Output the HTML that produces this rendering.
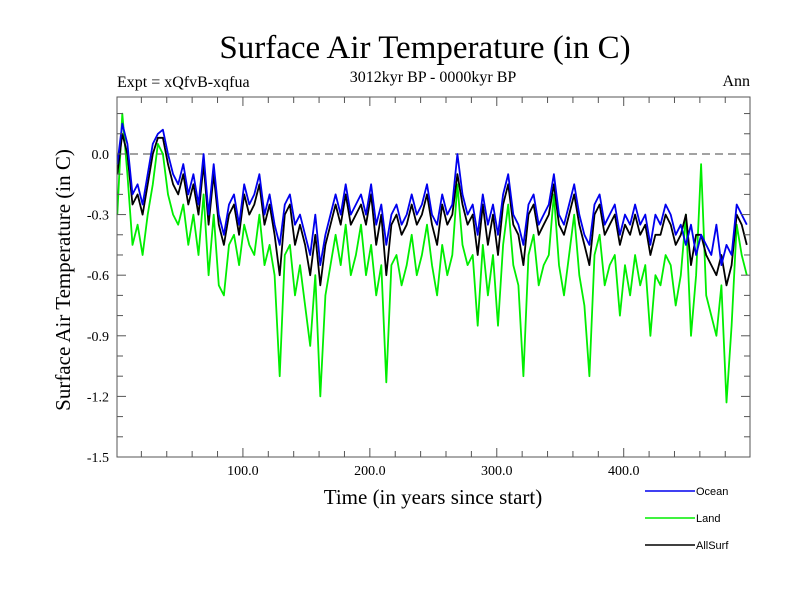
<!DOCTYPE html>
<html><head><meta charset="utf-8"><style>
body{margin:0;background:#fff;}
svg text{font-family:"Liberation Serif",serif;}
svg text.sans{font-family:"Liberation Sans",sans-serif;}
</style></head><body>
<svg id="chart" width="800" height="600" xmlns="http://www.w3.org/2000/svg">
<rect width="800" height="600" fill="#fff"/>
<text x="425" y="58" font-size="33" text-anchor="middle">Surface Air Temperature (in C)</text>
<text x="433" y="82" font-size="16" text-anchor="middle">3012kyr BP - 0000kyr BP</text>
<text x="117" y="87" font-size="16">Expt = xQfvB-xqfua</text>
<text x="750" y="86" font-size="16" text-anchor="end">Ann</text>
<text transform="translate(70,280) rotate(-90)" font-size="21" text-anchor="middle">Surface Air Temperature (in C)</text>
<text x="433" y="504" font-size="21" text-anchor="middle">Time (in years since start)</text>
<g id="plot"></g>
<g id="axes"></g>
<g id="legend"></g>
</svg>
<script>
const startYear = 1, stepYears = 4;
const yTickLabels = ["0.0","-0.3","-0.6","-0.9","-1.2","-1.5"];
const yTickValues = [0,-0.3,-0.6,-0.9,-1.2,-1.5];
const xTickValues = [100,200,300,400];
const xTickLabels = ["100.0","200.0","300.0","400.0"];
const ocean = [-0.05,0.15,0.05,-0.2,-0.15,-0.25,-0.1,0.05,0.1,0.12,0.0,-0.1,-0.15,-0.05,-0.2,-0.1,-0.25,0.0,-0.3,-0.05,-0.3,-0.4,-0.25,-0.2,-0.35,-0.15,-0.25,-0.2,-0.1,-0.3,-0.2,-0.35,-0.45,-0.25,-0.2,-0.35,-0.3,-0.4,-0.5,-0.3,-0.55,-0.4,-0.3,-0.2,-0.3,-0.15,-0.3,-0.25,-0.2,-0.3,-0.15,-0.35,-0.25,-0.45,-0.3,-0.25,-0.35,-0.3,-0.2,-0.3,-0.25,-0.15,-0.3,-0.35,-0.2,-0.3,-0.25,0.0,-0.2,-0.3,-0.25,-0.4,-0.2,-0.35,-0.25,-0.4,-0.2,-0.1,-0.3,-0.35,-0.45,-0.25,-0.2,-0.35,-0.3,-0.25,-0.1,-0.3,-0.35,-0.25,-0.15,-0.3,-0.4,-0.45,-0.25,-0.2,-0.35,-0.3,-0.25,-0.4,-0.3,-0.35,-0.25,-0.35,-0.3,-0.45,-0.3,-0.35,-0.25,-0.3,-0.4,-0.35,-0.45,-0.35,-0.5,-0.4,-0.45,-0.5,-0.35,-0.55,-0.45,-0.5,-0.25,-0.3,-0.35];
const land = [-0.3,0.2,-0.1,-0.45,-0.35,-0.5,-0.3,-0.15,0.05,0.0,-0.2,-0.3,-0.35,-0.25,-0.45,-0.3,-0.5,-0.2,-0.6,-0.3,-0.65,-0.7,-0.45,-0.4,-0.55,-0.35,-0.45,-0.5,-0.3,-0.55,-0.45,-0.6,-1.1,-0.5,-0.45,-0.7,-0.55,-0.75,-0.95,-0.6,-1.2,-0.7,-0.55,-0.4,-0.55,-0.35,-0.6,-0.5,-0.35,-0.6,-0.45,-0.7,-0.55,-1.13,-0.55,-0.5,-0.65,-0.55,-0.4,-0.6,-0.5,-0.35,-0.55,-0.7,-0.45,-0.6,-0.5,-0.15,-0.45,-0.55,-0.5,-0.85,-0.45,-0.7,-0.5,-0.85,-0.45,-0.25,-0.55,-0.65,-1.1,-0.5,-0.4,-0.65,-0.55,-0.5,-0.2,-0.55,-0.7,-0.5,-0.3,-0.6,-0.75,-1.1,-0.5,-0.4,-0.65,-0.55,-0.5,-0.8,-0.55,-0.7,-0.5,-0.65,-0.55,-0.9,-0.6,-0.65,-0.5,-0.55,-0.75,-0.6,-0.3,-0.9,-0.6,-0.05,-0.7,-0.8,-0.9,-0.65,-1.23,-0.85,-0.35,-0.5,-0.6];
const allSurf = [-0.1,0.1,0.0,-0.25,-0.2,-0.3,-0.15,0.0,0.08,0.08,-0.05,-0.15,-0.2,-0.1,-0.25,-0.15,-0.3,-0.05,-0.35,-0.1,-0.35,-0.45,-0.3,-0.25,-0.4,-0.2,-0.3,-0.25,-0.15,-0.35,-0.25,-0.4,-0.6,-0.3,-0.25,-0.45,-0.35,-0.45,-0.6,-0.4,-0.65,-0.45,-0.35,-0.25,-0.35,-0.2,-0.35,-0.3,-0.25,-0.35,-0.2,-0.45,-0.3,-0.6,-0.35,-0.3,-0.4,-0.35,-0.25,-0.35,-0.3,-0.2,-0.35,-0.45,-0.25,-0.35,-0.3,-0.1,-0.25,-0.35,-0.3,-0.5,-0.25,-0.45,-0.3,-0.5,-0.25,-0.15,-0.35,-0.4,-0.55,-0.3,-0.25,-0.4,-0.35,-0.3,-0.15,-0.35,-0.4,-0.3,-0.2,-0.35,-0.45,-0.55,-0.3,-0.25,-0.4,-0.35,-0.3,-0.45,-0.35,-0.4,-0.3,-0.4,-0.35,-0.5,-0.4,-0.4,-0.3,-0.35,-0.45,-0.4,-0.3,-0.55,-0.4,-0.4,-0.5,-0.55,-0.6,-0.5,-0.65,-0.55,-0.3,-0.35,-0.45];
const seriesNames = ["Ocean","Land","AllSurf"];

const NS = "http://www.w3.org/2000/svg";
const L=117,R=750,T=97,B=457, xMin=0.8, xMax=499.5, yMin=-1.5, yMax=0.282;
function xs(v){return L+(v-xMin)/(xMax-xMin)*(R-L);}
function ys(v){return B-(v-yMin)/(yMax-yMin)*(B-T);}
function mk(tag,attrs,parent){const e=document.createElementNS(NS,tag);for(const k in attrs)e.setAttribute(k,attrs[k]);parent.appendChild(e);return e;}
const plot=document.getElementById('plot'), axes=document.getElementById('axes'), legend=document.getElementById('legend');

const zl=mk('line',{x1:L,x2:R,y1:ys(0),y2:ys(0),stroke:'#444','stroke-width':1,'stroke-dasharray':'8,5'},plot);



const series=[{d:land,c:'#00ee00',n:'land-line'},{d:allSurf,c:'#000',n:'allsurf-line'},{d:ocean,c:'#0000ee',n:'ocean-line'}];
series.forEach(s=>{
  const pts=s.d.map((v,i)=>xs(startYear+i*stepYears).toFixed(1)+','+ys(v).toFixed(1)).join(' ');
  const p=mk('polyline',{points:pts,fill:'none',stroke:s.c,'stroke-width':1.8,'stroke-linejoin':'round'},plot);
  
  
});

const frame=mk('rect',{x:L,y:T,width:R-L,height:B-T,fill:'none',stroke:'#555','stroke-width':1},axes);


for(let k=-15;k<=2;k++){const v=k/10,y=ys(v),len=(k%3===0)?9:6;
  mk('line',{x1:L,x2:L+len,y1:y,y2:y,stroke:'#555'},axes);
  mk('line',{x1:R-len,x2:R,y1:y,y2:y,stroke:'#555'},axes);}
for(let v=20;v<500;v+=20){const x=xs(v),len=(v%100===0)?9:6;
  mk('line',{x1:x,x2:x,y1:B,y2:B-len,stroke:'#555'},axes);
  mk('line',{x1:x,x2:x,y1:T,y2:T+len,stroke:'#555'},axes);}
yTickValues.forEach((v,i)=>{const t=mk('text',{x:L-8,y:ys(v)+5,'font-size':14,'text-anchor':'end'},axes);t.textContent=yTickLabels[i];
  
  });
xTickValues.forEach((v,i)=>{const t=mk('text',{x:xs(v),y:B+18,'font-size':14,'text-anchor':'middle'},axes);t.textContent=xTickLabels[i];
  
  });

const legCols=['#0000ee','#00ee00','#000'];
seriesNames.forEach((n,i)=>{const y=491+i*27;
  const g=mk('g',{},legend);
  
  
  mk('line',{x1:645,x2:695,y1:y,y2:y,stroke:legCols[i],'stroke-width':1.5},g);
  const t=mk('text',{x:696,y:y+4,'font-size':11,'class':'sans'},g);t.textContent=n;});
</script>
</body></html>
